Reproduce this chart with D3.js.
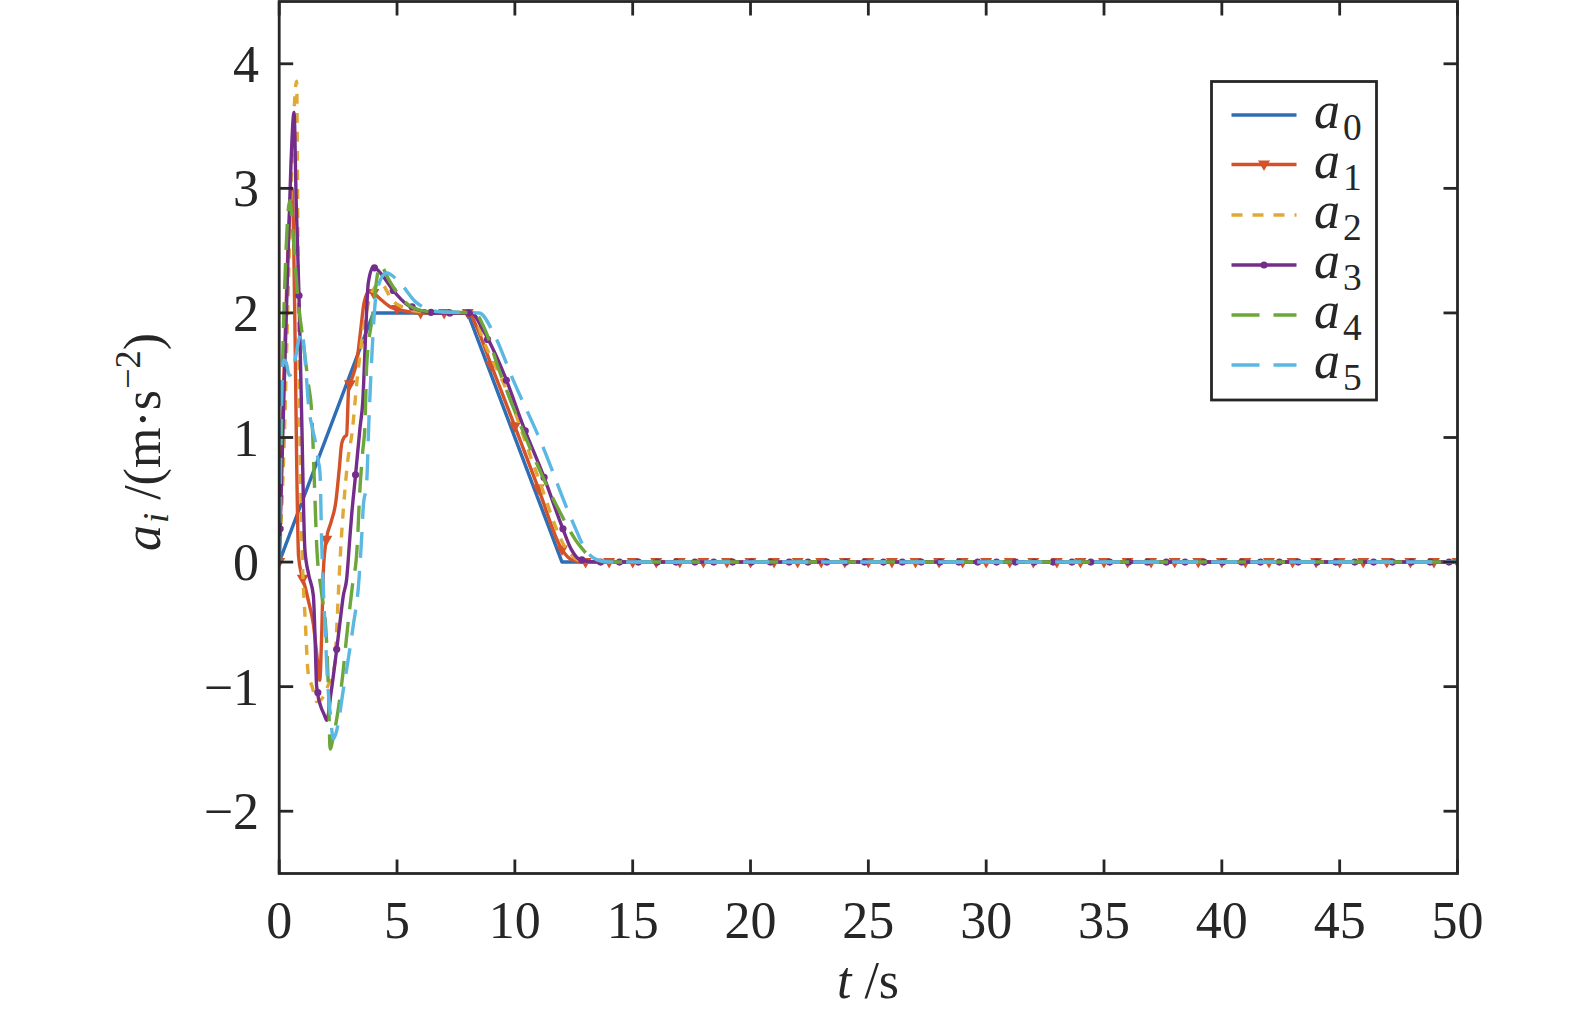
<!DOCTYPE html>
<html><head><meta charset="utf-8">
<script src="https://cdn.jsdelivr.net/npm/d3@7"></script>
<style>body{margin:0;background:#fff}</style>
</head><body>
<svg id="c" width="1575" height="1018"></svg>
<script>
// ---------- data ----------
const xTicks = [0,5,10,15,20,25,30,35,40,45,50];
const yTicks = [-2,-1,0,1,2,3,4];
const seriesNames = ["0","1","2","3","4","5"];
const seriesColors = ["#2f6db5","#d3522a","#e0a834","#742d8b","#6da63a","#5bb8e3"];

const a0 = [[0,0],[4,2],[8,2],[12,0],[50,0]];
const a1 = [[0,0],[0.15,1.2],[0.35,2.4],[0.55,3.0],[0.62,2.5],[0.67,1.85],[0.74,0.82],[0.82,0.05],[0.95,-0.1],[1.1,-0.2],[1.25,-0.32],[1.45,-0.5],[1.6,-0.75],[1.72,-0.95],[1.8,-0.6],[1.88,-0.05],[2.0,0.18],[2.2,0.32],[2.4,0.48],[2.55,0.75],[2.65,0.95],[2.75,1.0],[2.86,1.02],[2.95,1.4],[3.1,1.48],[3.3,1.62],[3.45,1.85],[3.6,2.08],[3.8,2.17],[4.0,2.16],[4.3,2.11],[4.7,2.05],[5.2,2.02],[6,2.0],[8.05,2.0],[8.35,1.9],[9,1.58],[10,1.09],[11,0.59],[12,0.1],[12.4,0.02],[13,0],[50,0]];
const a2 = [[0,0],[0.2,0.9],[0.4,2.3],[0.6,3.5],[0.74,3.86],[0.8,2.4],[0.85,1.44],[0.95,0.24],[1.0,-0.08],[1.1,-0.45],[1.23,-0.89],[1.4,-1.0],[1.6,-1.12],[1.8,-1.1],[2.0,-1.02],[2.2,-0.93],[2.37,-0.8],[2.45,-0.5],[2.55,-0.1],[2.65,0.23],[2.8,0.6],[2.9,0.8],[3.1,1.05],[3.3,1.45],[3.6,1.9],[3.9,2.15],[4.3,2.24],[4.8,2.1],[5.3,2.04],[6,2.01],[8.2,2.0],[8.66,1.78],[9.65,1.38],[10.93,0.71],[12.2,0.1],[12.8,0.01],[13.5,0],[50,0]];
const a3 = [[0,0],[0.15,1.0],[0.35,2.3],[0.5,3.2],[0.63,3.61],[0.72,2.9],[0.84,2.14],[0.95,1.2],[1.09,0.1],[1.25,-0.1],[1.45,-0.27],[1.52,-0.6],[1.59,-1.0],[1.75,-1.15],[1.9,-1.22],[2.02,-1.27],[2.2,-1.05],[2.44,-0.7],[2.6,-0.45],[2.72,-0.27],[2.86,-0.14],[3.0,0.2],[3.08,0.39],[3.22,0.66],[3.43,1.08],[3.55,1.3],[3.64,1.7],[3.78,2.24],[3.99,2.37],[4.3,2.32],[4.84,2.18],[5.4,2.07],[5.97,2.02],[6.6,2.0],[8.15,2.0],[8.66,1.86],[9.58,1.49],[10.36,1.09],[11.2,0.7],[11.99,0.29],[12.4,0.1],[12.76,0.02],[13.5,0],[50,0]];
const a4 = [[0,0],[0.1,1.2],[0.25,2.3],[0.45,2.9],[0.6,2.6],[0.8,2.1],[0.97,1.84],[1.23,1.44],[1.38,1.2],[1.5,0.6],[1.6,0.1],[1.8,-0.25],[2.0,-0.6],[2.1,-1.1],[2.16,-1.5],[2.3,-1.4],[2.44,-1.26],[2.7,-0.9],[2.86,-0.6],[3.1,-0.2],[3.3,0.1],[3.43,0.6],[3.55,0.9],[3.64,1.1],[3.71,1.57],[3.94,1.95],[4.28,2.38],[4.7,2.25],[5.13,2.13],[5.7,2.04],[6.4,2.01],[8.3,2.0],[8.7,1.88],[9.37,1.52],[10.5,0.98],[11.78,0.45],[12.76,0.13],[13.3,0.03],[14,0],[50,0]];
const a5 = [[0,0],[0.05,0.8],[0.12,1.5],[0.2,1.62],[0.3,1.6],[0.42,1.5],[0.55,1.52],[0.7,1.65],[0.85,1.8],[0.97,1.85],[1.1,1.62],[1.25,1.25],[1.4,1.08],[1.52,0.98],[1.65,0.82],[1.73,0.72],[1.8,0.18],[1.94,-0.5],[2.05,-0.95],[2.16,-1.2],[2.3,-1.42],[2.4,-1.38],[2.51,-1.29],[2.7,-1.05],[2.93,-0.78],[3.15,-0.5],[3.36,-0.2],[3.5,0.2],[3.57,0.45],[3.71,0.63],[3.8,1.1],[3.93,1.65],[4.14,2.18],[4.56,2.32],[5.13,2.24],[5.84,2.08],[6.8,2.01],[8.5,2.0],[9.09,1.84],[9.93,1.46],[11.07,0.98],[12.48,0.31],[13.0,0.1],[13.47,0.02],[14,0],[50,0]];
const allSeries = [a0,a1,a2,a3,a4,a5];

// marker placement times
const a1MarkerTimes = d3.range(0, 50.01, 1);
const a3MarkerTimes = d3.range(0.04, 50, 0.8);

// ---------- layout ----------
const W = 1575, H = 1018;
const L = 279.2, R = 1457.5, T = 1.5, B = 873.5;
const FONT = "Liberation Serif, DejaVu Serif, Noto Serif, serif";
const FS = 52;
const axisColor = "#262626";

const svg = d3.select("#c");
svg.append("rect").attr("width",W).attr("height",H).attr("fill","#fff");

const x = d3.scaleLinear().domain([0,50]).range([L,R]);
const y = d3.scaleLinear().domain([-2.5,4.5]).range([B,T]);

const LW = 3.4;
const styles = [
  {dash:null}, {dash:null}, {dash:"10,9"}, {dash:null}, {dash:"26,13"}, {dash:"26,13"}
];

function valueAt(s, t){
  const i = d3.bisector(d=>d[0]).right(s, t);
  if(i<=0) return s[0][1];
  if(i>=s.length) return s[s.length-1][1];
  const p=s[i-1], q=s[i];
  return p[1] + (q[1]-p[1])*(t-p[0])/(q[0]-p[0]);
}

svg.append("clipPath").attr("id","clp").append("rect")
  .attr("x",L).attr("y",T).attr("width",R-L).attr("height",B-T);
const plot = svg.append("g").attr("clip-path","url(#clp)");

const triPath = "M-6,-4L6,-4L0,6.5Z";

allSeries.forEach((s,i)=>{
  const line = d3.line().x(d=>x(d[0])).y(d=>y(d[1]))
    .curve(i===0 ? d3.curveLinear : d3.curveMonotoneX);
  plot.append("path").datum(s).attr("d",line)
    .attr("fill","none").attr("stroke",seriesColors[i])
    .attr("stroke-width",LW)
    .attr("stroke-dasharray",styles[i].dash)
    .attr("stroke-linejoin","round");
  if(i===1){
    plot.append("g").selectAll("path").data(a1MarkerTimes).join("path")
      .attr("d",triPath)
      .attr("transform",t=>`translate(${x(t)},${y(valueAt(s,t))})`)
      .attr("fill",seriesColors[1]);
  }
  if(i===3){
    plot.append("g").selectAll("circle").data(a3MarkerTimes).join("circle")
      .attr("cx",t=>x(t)).attr("cy",t=>y(valueAt(s,t))).attr("r",3.6)
      .attr("fill",seriesColors[3]);
  }
});

// ---------- axes (box with inward ticks on all sides) ----------
const TL = 14;
const ax = svg.append("g").attr("stroke",axisColor).attr("stroke-width",2.8).attr("fill","none");
ax.append("rect").attr("x",L).attr("y",T).attr("width",R-L).attr("height",B-T);
xTicks.forEach(v=>{
  ax.append("line").attr("x1",x(v)).attr("x2",x(v)).attr("y1",B).attr("y2",B-TL);
  ax.append("line").attr("x1",x(v)).attr("x2",x(v)).attr("y1",T).attr("y2",T+TL);
});
yTicks.forEach(v=>{
  ax.append("line").attr("x1",L).attr("x2",L+TL).attr("y1",y(v)).attr("y2",y(v));
  ax.append("line").attr("x1",R).attr("x2",R-TL).attr("y1",y(v)).attr("y2",y(v));
});

const fmt = v => (v<0 ? "\u2212"+Math.abs(v) : String(v));
svg.append("g").selectAll("text").data(xTicks).join("text")
  .attr("x",d=>x(d)).attr("y",938).attr("text-anchor","middle")
  .attr("font-family",FONT).attr("font-size",FS).attr("fill",axisColor)
  .text(fmt);
svg.append("g").selectAll("text").data(yTicks).join("text")
  .attr("x",259).attr("y",d=>y(d)+18).attr("text-anchor","end")
  .attr("font-family",FONT).attr("font-size",FS).attr("fill",axisColor)
  .text(fmt);

// x label
const xl = svg.append("text").attr("x",868).attr("y",998).attr("text-anchor","middle")
  .attr("font-family",FONT).attr("font-size",FS).attr("fill",axisColor);
xl.append("tspan").attr("font-style","italic").text("t");
xl.append("tspan").text(" /s");

// y label
const yl = svg.append("text").attr("transform","translate(160,442) rotate(-90)")
  .attr("text-anchor","middle")
  .attr("font-family",FONT).attr("font-size",FS).attr("fill",axisColor);
yl.append("tspan").attr("font-style","italic").text("a");
yl.append("tspan").attr("font-style","italic").attr("font-size",FS*0.7).attr("dx",2).attr("dy",8).text("i");
yl.append("tspan").attr("dy",-8).text(" /(m\u00B7s");
yl.append("tspan").attr("font-size",FS*0.7).attr("dx",1).attr("dy",-20).text("\u22122");
yl.append("tspan").attr("dy",20).text(")");

// ---------- legend ----------
const lg = svg.append("g");
lg.append("rect").attr("x",1211.5).attr("y",81.5).attr("width",165).attr("height",318.5)
  .attr("fill","#fff").attr("stroke",axisColor).attr("stroke-width",2.8);
const rowY = [115,164.5,215,265,315,365];
seriesNames.forEach((n,i)=>{
  const yy = rowY[i];
  lg.append("line").attr("x1",1231.5).attr("x2",1296.5).attr("y1",yy).attr("y2",yy)
    .attr("stroke",seriesColors[i]).attr("stroke-width",LW)
    .attr("stroke-dasharray", i===2 ? "11,10" : (i>=4 ? "28,14" : null));
  if(i===1) lg.append("path").attr("d",triPath).attr("transform",`translate(1264,${yy})`).attr("fill",seriesColors[1]);
  if(i===3) lg.append("circle").attr("cx",1264).attr("cy",yy).attr("r",3.6).attr("fill",seriesColors[3]);
  lg.append("text").attr("x",1314).attr("y",yy+13)
    .attr("font-family",FONT).attr("font-size",FS).attr("font-style","italic").attr("fill",axisColor)
    .text("a");
  lg.append("text").attr("x",1343).attr("y",yy+25)
    .attr("font-family",FONT).attr("font-size",FS*0.72).attr("fill",axisColor)
    .text(n);
});
</script>
</body></html>
